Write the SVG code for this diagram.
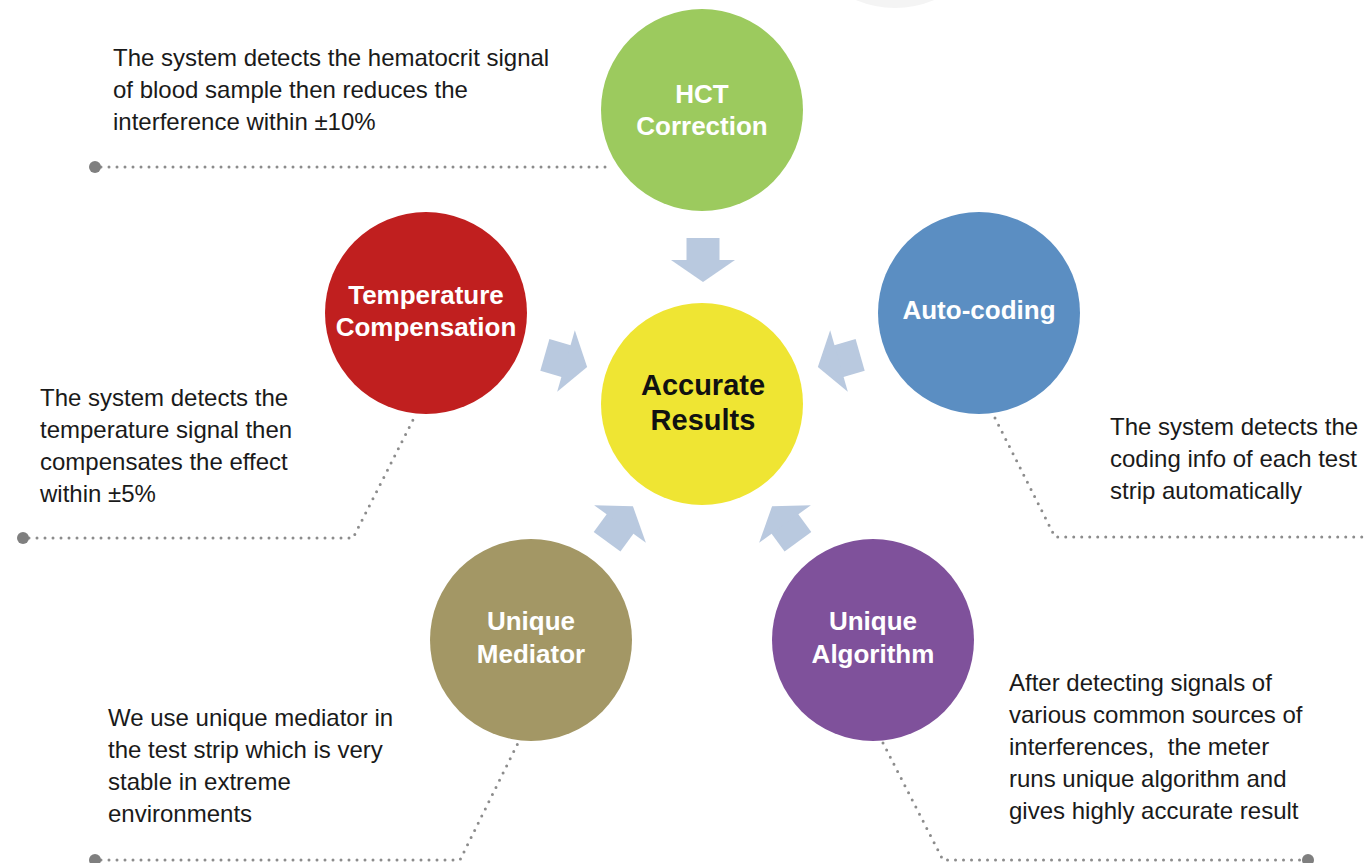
<svg xmlns="http://www.w3.org/2000/svg" width="1367" height="863" viewBox="0 0 1367 863">
<style>
.body{font-family:"Liberation Sans",Arial,sans-serif;font-size:24px;fill:#1a1a1a}
.lbl{font-family:"Liberation Sans",Arial,sans-serif;font-size:26px;font-weight:bold;fill:#ffffff;text-anchor:middle}
.ctr{font-family:"Liberation Sans",Arial,sans-serif;font-size:29px;font-weight:bold;fill:#111111;text-anchor:middle}
.dots{fill:none;stroke:#8c8c8c;stroke-width:3;stroke-linecap:round;stroke-dasharray:0 8}
.enddot{fill:#7f7f7f}
.arrow{fill:#b9c9df}
</style>
<defs>
<g id="arr"><rect x="-16.5" y="-22" width="33" height="23"/><polygon points="-32,0 32,0 0,22"/></g>
</defs>
<rect width="1367" height="863" fill="#ffffff"/>
<circle cx="895" cy="-93" r="101" fill="#f4f4f4"/>

<g id="connectors">
<polyline class="dots" points="101,167 612,167"/>
<circle class="enddot" cx="95" cy="167" r="6"/>
<polyline class="dots" points="29,538 353,538 413,420"/>
<circle class="enddot" cx="23" cy="538" r="6"/>
<polyline class="dots" points="995,418 1055,537 1367,537"/>
<polyline class="dots" points="101,860 460,860 518,743"/>
<circle class="enddot" cx="95" cy="860" r="6"/>
<polyline class="dots" points="883,743 943,860 1302,860"/>
<circle class="enddot" cx="1308" cy="860" r="6"/>
<g class="arrow">
<use href="#arr" transform="translate(703,260)"/>
<use href="#arr" transform="translate(566,361) rotate(-74)"/>
<use href="#arr" transform="translate(839,361) rotate(74)"/>
<use href="#arr" transform="translate(620,524) rotate(-144)"/>
<use href="#arr" transform="translate(785,524) rotate(144)"/>
</g>
</g>

<g id="hct">
<circle cx="702" cy="110" r="101" fill="#9cca5e"/>
<text class="lbl" x="702" y="103">HCT</text>
<text class="lbl" x="702" y="135">Correction</text>
</g>
<g id="temperature">
<circle cx="426" cy="313" r="101" fill="#c01f1f"/>
<text class="lbl" x="426" y="304">Temperature</text>
<text class="lbl" x="426" y="336">Compensation</text>
</g>
<g id="autocoding">
<circle cx="979" cy="313" r="101" fill="#5b8ec2"/>
<text class="lbl" x="979" y="319">Auto-coding</text>
</g>
<g id="accurate">
<circle cx="702" cy="404" r="101" fill="#efe533"/>
<text class="ctr" x="703" y="395">Accurate</text>
<text class="ctr" x="703" y="430">Results</text>
</g>
<g id="mediator">
<circle cx="531" cy="640" r="101" fill="#a39765"/>
<text class="lbl" x="531" y="630">Unique</text>
<text class="lbl" x="531" y="663">Mediator</text>
</g>
<g id="algorithm">
<circle cx="873" cy="640" r="101" fill="#7f519b"/>
<text class="lbl" x="873" y="630">Unique</text>
<text class="lbl" x="873" y="663">Algorithm</text>
</g>

<g id="desc-hct" class="body">
<text x="113" y="66">The system detects the hematocrit signal</text>
<text x="113" y="98">of blood sample then reduces the</text>
<text x="113" y="130">interference within ±10%</text>
</g>
<g id="desc-temperature" class="body">
<text x="40" y="406">The system detects the</text>
<text x="40" y="438">temperature signal then</text>
<text x="40" y="470">compensates the effect</text>
<text x="40" y="502">within ±5%</text>
</g>
<g id="desc-autocoding" class="body">
<text x="1110" y="435">The system detects the</text>
<text x="1110" y="467">coding info of each test</text>
<text x="1110" y="499">strip automatically</text>
</g>
<g id="desc-mediator" class="body">
<text x="108" y="726">We use unique mediator in</text>
<text x="108" y="758">the test strip which is very</text>
<text x="108" y="790">stable in extreme</text>
<text x="108" y="822">environments</text>
</g>
<g id="desc-algorithm" class="body">
<text x="1009" y="691">After detecting signals of</text>
<text x="1009" y="723">various common sources of</text>
<text x="1009" y="755">interferences,&#160; the meter</text>
<text x="1009" y="787">runs unique algorithm and</text>
<text x="1009" y="819">gives highly accurate result</text>
</g>
</svg>
